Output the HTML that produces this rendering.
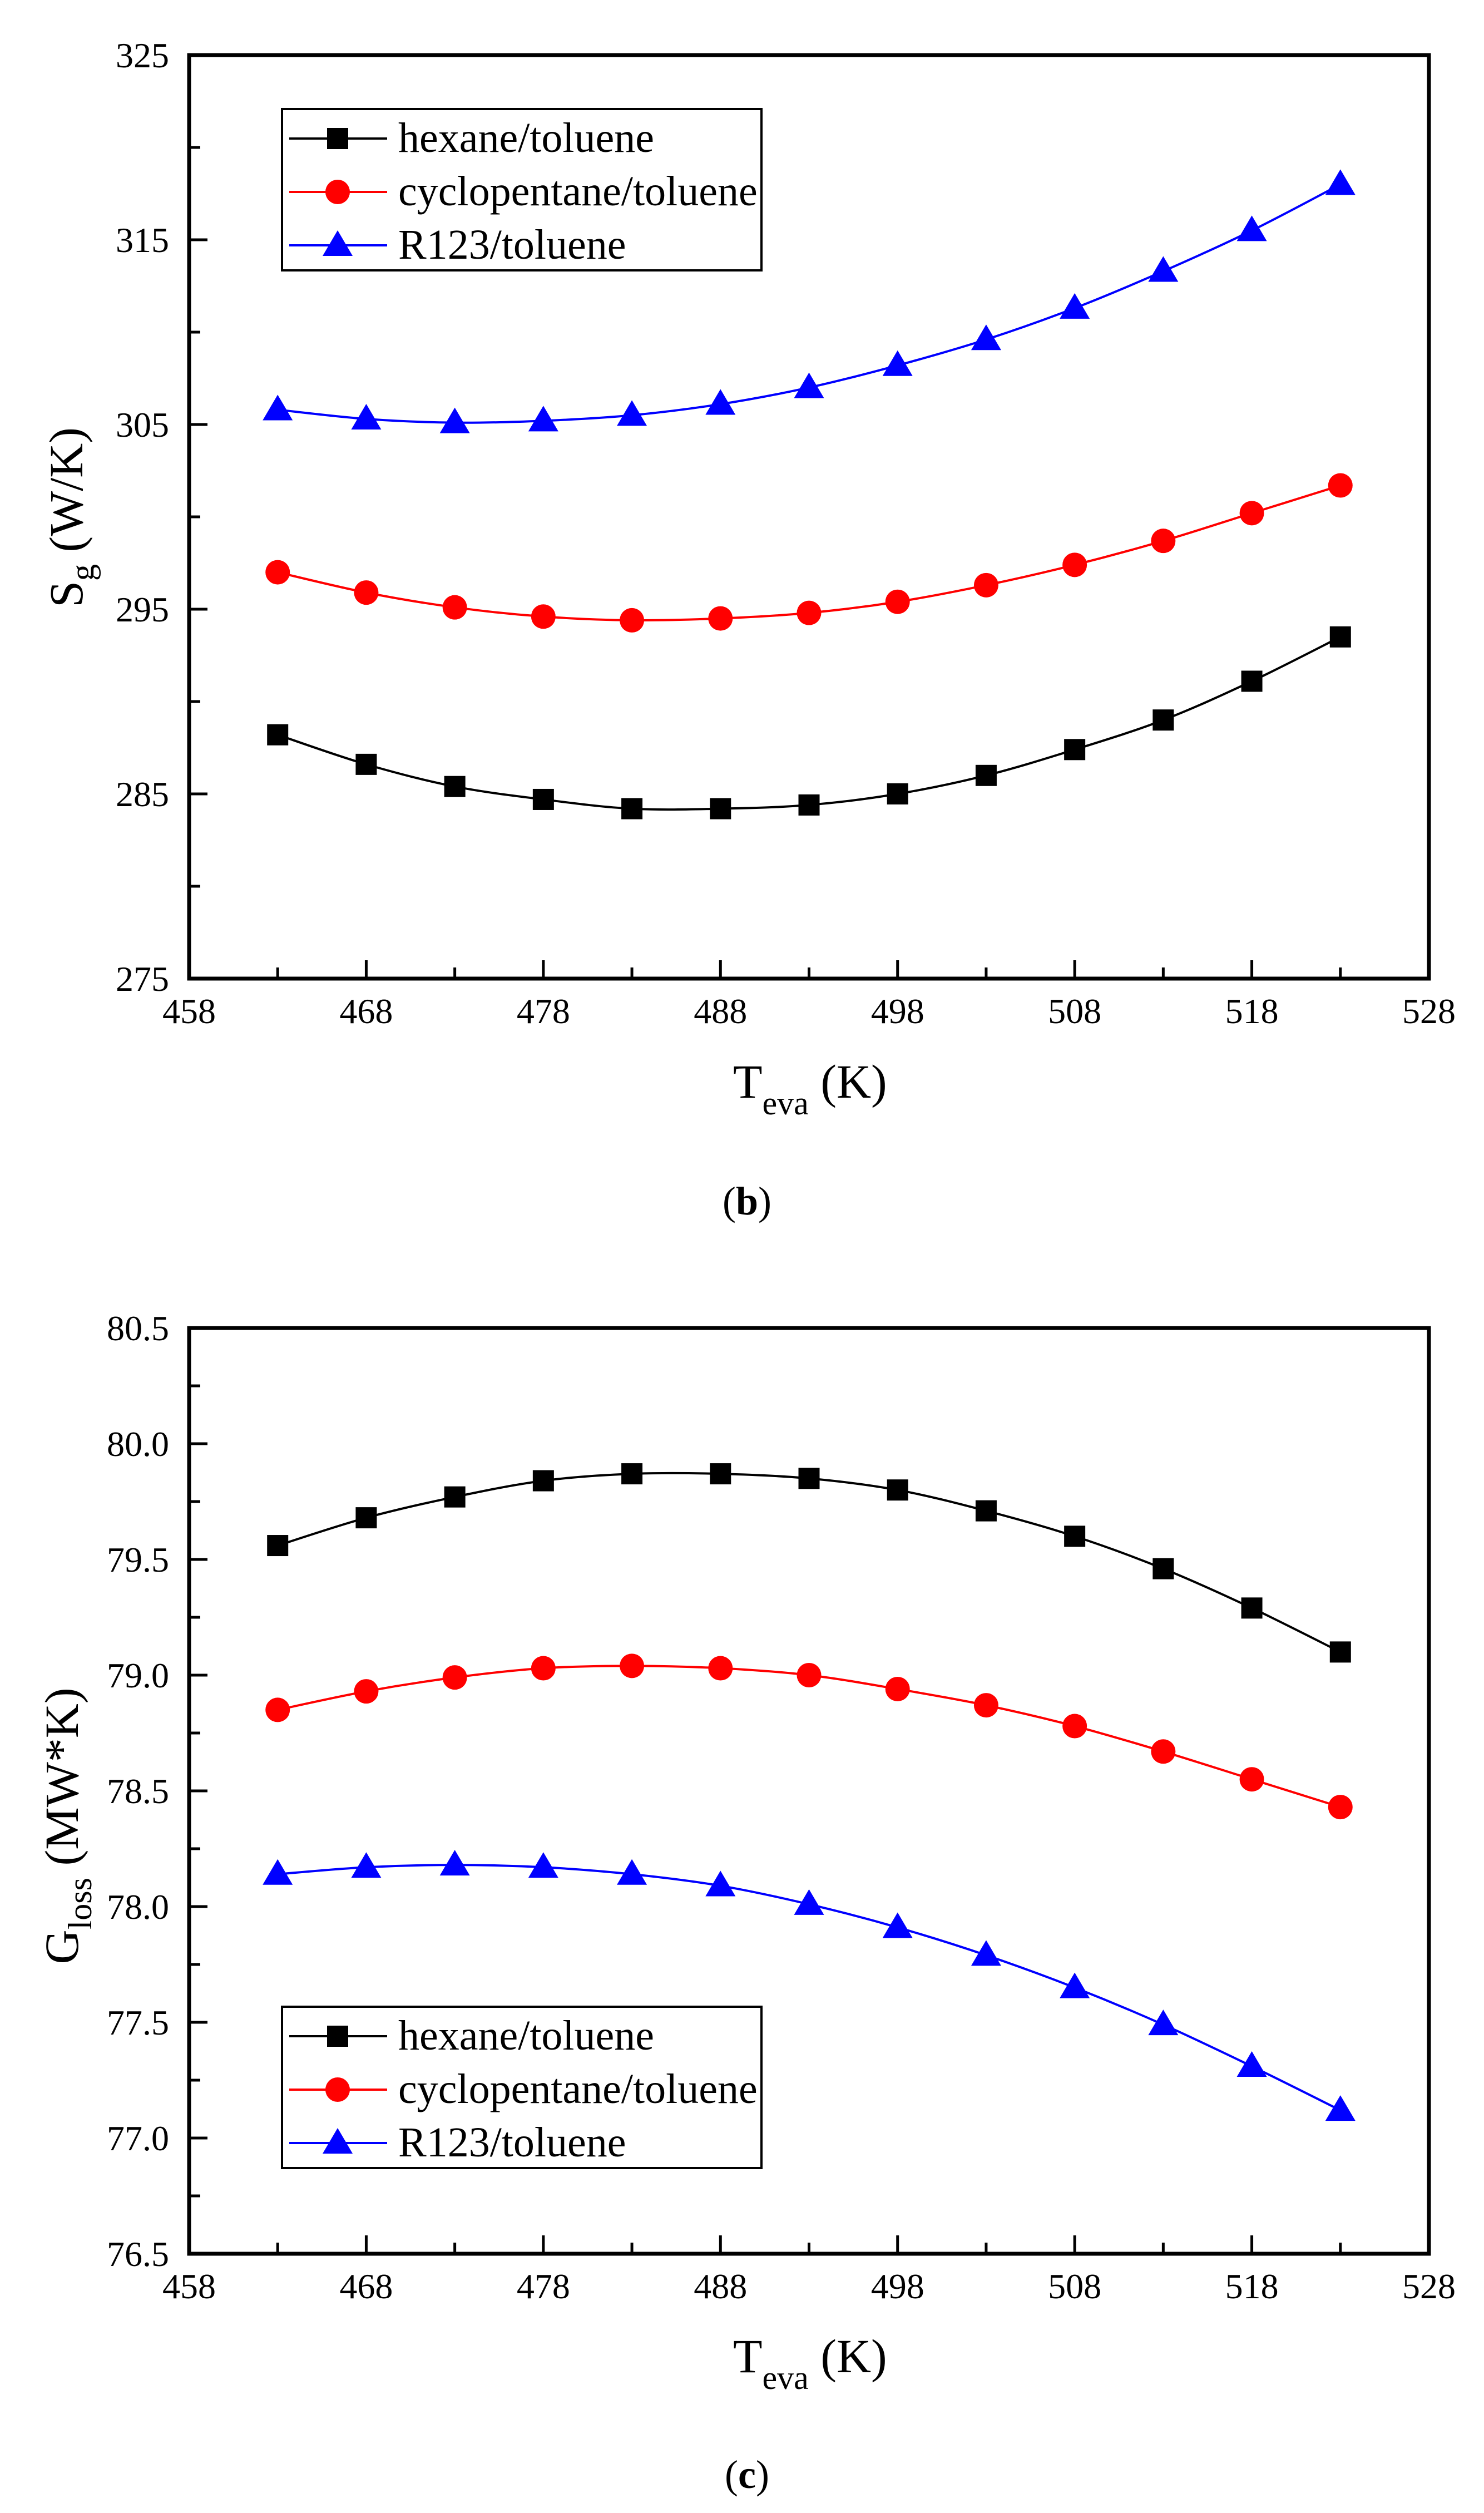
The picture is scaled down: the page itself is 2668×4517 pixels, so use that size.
<!DOCTYPE html>
<html><head><meta charset="utf-8"><style>
html,body{margin:0;padding:0;background:#fff;}
svg{display:block;}
svg text{font-family:"Liberation Serif","Times New Roman",serif;}
</style></head><body>
<svg id="fig" width="2668" height="4517" viewBox="0 0 2668 4517" xmlns="http://www.w3.org/2000/svg" font-family="Liberation Serif, serif"></svg>
<script>
const xTemps = [463,468,473,478,483,488,493,498,503,508,513,518,523];
const xTicks = [458,468,478,488,498,508,518,528];
const seriesNames = ["hexane/toluene","cyclopentane/toluene","R123/toluene"];
const seriesColors = ["#000","#f00","#00f"];
const sgHexane = [288.2,286.6,285.4,284.7,284.2,284.2,284.4,285.0,286.0,287.4,289.0,291.1,293.5];
const sgCyclo  = [297.0,295.9,295.1,294.6,294.4,294.5,294.8,295.4,296.3,297.4,298.7,300.2,301.7];
const sgR123   = [305.8,305.3,305.1,305.2,305.5,306.1,307.0,308.2,309.6,311.3,313.3,315.5,318.0];
const sgTicks = [275,285,295,305,315,325];
const glHexane = [79.56,79.68,79.77,79.84,79.87,79.87,79.85,79.80,79.71,79.60,79.46,79.29,79.10];
const glCyclo  = [78.85,78.93,78.99,79.03,79.04,79.03,79.00,78.94,78.87,78.78,78.67,78.55,78.43];
const glR123   = [78.14,78.17,78.18,78.17,78.14,78.09,78.01,77.91,77.79,77.65,77.49,77.31,77.12];
const glTicks = [76.5,77.0,77.5,78.0,78.5,79.0,79.5,80.0,80.5];

const NS="http://www.w3.org/2000/svg";
const svg=document.getElementById('fig');
function mk(tag,attrs,parent){const e=document.createElementNS(NS,tag);for(const k in attrs)e.setAttribute(k,attrs[k]);if(tag==='text')e.setAttribute('font-family','Liberation Serif, serif');(parent||svg).appendChild(e);return e;}

function spline(pts){
  let d=`M${pts[0][0]},${pts[0][1]}`;
  for(let i=0;i<pts.length-1;i++){
    const p0=pts[Math.max(0,i-1)],p1=pts[i],p2=pts[i+1],p3=pts[Math.min(pts.length-1,i+2)];
    const c1=[p1[0]+(p2[0]-p0[0])/6,p1[1]+(p2[1]-p0[1])/6];
    const c2=[p2[0]-(p3[0]-p1[0])/6,p2[1]-(p3[1]-p1[1])/6];
    d+=` C${c1[0]},${c1[1]} ${c2[0]},${c2[1]} ${p2[0]},${p2[1]}`;
  }
  return d;
}
function marker(g,kind,cx,cy,color){
  let m;
  if(kind===0) m=mk('rect',{x:cx-19,y:cy-19,width:38,height:38,fill:color},g);
  else if(kind===1) m=mk('ellipse',{cx:cx,cy:cy,rx:22,ry:22,fill:color},g);
  else m=mk('polygon',{points:`${cx},${cy-27} ${cx+27},${cy+19} ${cx-27},${cy+19}`,fill:color},g);
  
  
  return m;
}

function chart(cfg){
  const L=340,R=2569,T=cfg.top,B=cfg.bottom;
  const g=mk('g',{});
  
  
  const xs=v=>L+(v-458)/(528-458)*(R-L);
  const ys=v=>B-(v-cfg.ymin)/(cfg.ymax-cfg.ymin)*(B-T);
  const fr=mk('rect',{x:L,y:T,width:R-L,height:B-T,fill:'none',stroke:'#000','stroke-width':7},g);
  
  
  for(let i=0;i<xTicks.length;i++){
    const x=xs(xTicks[i]);
    if(i>0&&i<xTicks.length-1) mk('line',{x1:x,y1:B,x2:x,y2:B-33,stroke:'#000','stroke-width':5},g);
    if(i<xTicks.length-1){const xm=xs(xTicks[i]+5);mk('line',{x1:xm,y1:B,x2:xm,y2:B-20,stroke:'#000','stroke-width':5},g);}
    const t=mk('text',{x:x,y:B+80,'font-size':64,'text-anchor':'middle'},g);
    t.textContent=xTicks[i];
    
    
  }
  const yt=cfg.yTicks;
  for(let i=0;i<yt.length;i++){
    const y=ys(yt[i]);
    if(i>0&&i<yt.length-1) mk('line',{x1:L,y1:y,x2:L+33,y2:y,stroke:'#000','stroke-width':5},g);
    if(i<yt.length-1){const ym=ys((yt[i]+yt[i+1])/2);mk('line',{x1:L,y1:ym,x2:L+20,y2:ym,stroke:'#000','stroke-width':5},g);}
    const t=mk('text',{x:L-36,y:y+22,'font-size':64,'text-anchor':'end'},g);
    t.textContent=cfg.fmt(yt[i]);
    
    
  }
  cfg.series.forEach((vals,k)=>{
    const pts=xTemps.map((x,i)=>[xs(x),ys(vals[i])]);
    const p=mk('path',{d:spline(pts),fill:'none',stroke:seriesColors[k],'stroke-width':4},g);
    
    
    pts.forEach(pt=>marker(g,k,pt[0],pt[1],seriesColors[k]));
  });
  const lg=mk('g',{},g);
  
  
  const lt=cfg.legTop;
  mk('rect',{x:507,y:lt,width:862,height:290,fill:'#fff',stroke:'#000','stroke-width':4},lg);
  seriesNames.forEach((n,k)=>{
    const y=lt+53+k*96;
    const e=mk('g',{},lg);
    
    
    mk('line',{x1:520,y1:y,x2:696,y2:y,stroke:seriesColors[k],'stroke-width':4},e);
    marker(e,k,607,y,seriesColors[k]);
    const t=mk('text',{x:716,y:y+24,'font-size':76},e);
    t.textContent=n;
  });
  const xt=mk('text',{x:1318,y:cfg.xTitleY,'font-size':86},g);
  
  
  xt.innerHTML='T<tspan dy="30" font-size="60">eva</tspan><tspan dy="-30"> (K)</tspan>';
  const yt2=mk('text',{x:0,y:0,'font-size':86,'text-anchor':'middle',transform:`translate(${cfg.yTitleX},${cfg.yTitleY}) rotate(-90)`},g);
  
  
  yt2.innerHTML=cfg.yTitle;
  const pl=mk('text',{x:1343,y:cfg.panelY,'font-size':72,'text-anchor':'middle'},g);
  
  
  pl.innerHTML='(<tspan font-weight="bold">'+cfg.panel+'</tspan>)';
}

chart({name:'sg-chart',top:99,bottom:1759,ymin:275,ymax:325,yTicks:sgTicks,fmt:v=>String(v),
  series:[sgHexane,sgCyclo,sgR123],legTop:196,xTitleY:1973,yTitleX:148,yTitleY:930,
  yTitle:'S<tspan dy="20" font-size="60">g</tspan><tspan dy="-20"> (W/K)</tspan>',panelY:2183,panel:'b'});
chart({name:'gloss-chart',top:2387,bottom:4051,ymin:76.5,ymax:80.5,yTicks:glTicks,fmt:v=>v.toFixed(1),
  series:[glHexane,glCyclo,glR123],legTop:3607,xTitleY:4264,yTitleX:140,yTitleY:3282,
  yTitle:'G<tspan dy="24" font-size="60">loss</tspan><tspan dy="-24"> (MW*K)</tspan>',panelY:4472,panel:'c'});
</script>
</body></html>
